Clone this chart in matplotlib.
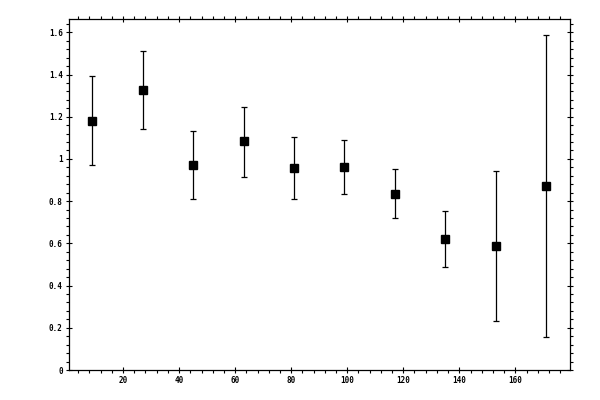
import numpy as np
import matplotlib.pyplot as plt
from matplotlib.ticker import MultipleLocator

plt.rcParams.update({
    "font.family": "DejaVu Sans Mono",
    "font.size": 5.5,
    "font.weight": "bold",
    "savefig.facecolor": "white",
})

# values
x = [9, 27, 45, 63, 81, 99, 117, 135, 153, 171]
y = [1.182, 1.325, 0.973, 1.084, 0.959, 0.964, 0.836, 0.622, 0.589, 0.874]
y_hi = [1.391, 1.513, 1.130, 1.247, 1.106, 1.090, 0.953, 0.755, 0.945, 1.586]
y_lo = [0.973, 1.140, 0.812, 0.916, 0.812, 0.836, 0.722, 0.489, 0.233, 0.158]

y = np.array(y)
err = [y - np.array(y_lo), np.array(y_hi) - y]

fig = plt.figure(figsize=(6, 4), dpi=100)
ax = fig.add_axes([0.115, 0.075, 0.835, 0.877])

ax.errorbar(x, y, yerr=err, fmt='s', color='black', markersize=5.5,
            elinewidth=0.9, capsize=2, capthick=0.9)

ax.set_xlim(0.7, 179.5)
ax.set_ylim(0, 1.662)
ax.xaxis.set_minor_locator(MultipleLocator(4))
ax.yaxis.set_minor_locator(MultipleLocator(0.04))
ax.set_xticks([20, 40, 60, 80, 100, 120, 140, 160])
ax.set_yticks([0, 0.2, 0.4, 0.6, 0.8, 1, 1.2, 1.4, 1.6])
ax.set_yticklabels(['0', '0.2', '0.4', '0.6', '0.8', '1', '1.2', '1.4', '1.6'])

ax.tick_params(which='major', direction='inout', length=5, width=0.8,
               top=True, right=True, pad=2)
ax.tick_params(which='minor', direction='out', length=2, width=0.8,
               top=True, right=True)
for s in ax.spines.values():
    s.set_linewidth(0.9)

fig.savefig('out.png', dpi=100)
